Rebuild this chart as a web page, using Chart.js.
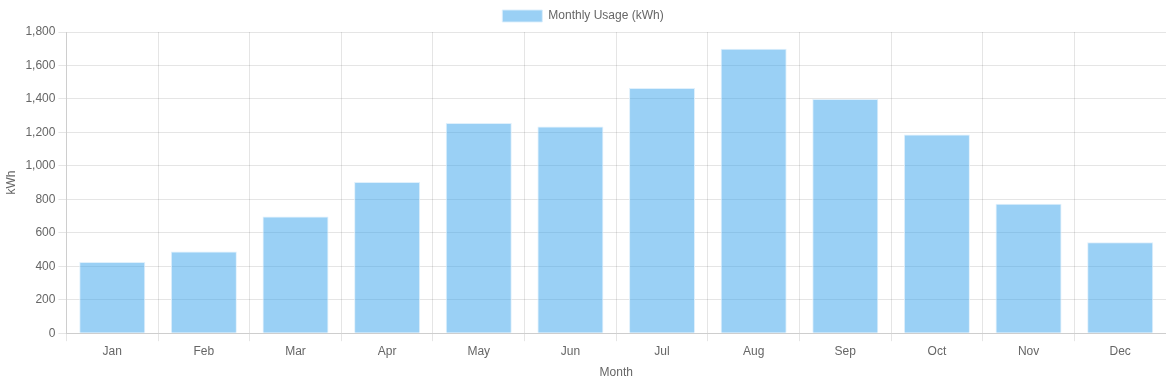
<!DOCTYPE html>
<html>
<head>
<meta charset="utf-8">
<script src="https://cdn.jsdelivr.net/npm/chart.js@4/dist/chart.umd.min.js"></script>
<style>
html,body{margin:0;padding:0;background:#fff;}
#wrap{width:1166px;height:384px;position:relative;}
</style>
</head>
<body>
<div id="wrap"><canvas id="c"></canvas></div>
<script>
const categories = ['Jan','Feb','Mar','Apr','May','Jun','Jul','Aug','Sep','Oct','Nov','Dec'];
const usageKWh = [425, 488, 698, 903, 1256, 1235, 1466, 1700, 1400, 1188, 773, 543];
const seriesLabel = 'Monthly Usage (kWh)';
const xTitle = 'Month';
const yTitle = 'kWh';

Chart.defaults.font.family = "'Helvetica Neue', Helvetica, 'Liberation Sans', Arial, sans-serif";
Chart.defaults.font.size = 12;
Chart.defaults.color = '#666';

new Chart(document.getElementById('c'), {
  type: 'bar',
  data: {
    labels: categories,
    datasets: [{
      label: seriesLabel,
      data: usageKWh,
      backgroundColor: 'rgba(54,162,235,0.5)',
      borderColor: 'rgba(220,238,252,0.9)',
      borderWidth: 1
    }]
  },
  options: {
    responsive: true,
    maintainAspectRatio: false,
    animation: false,
    plugins: {
      legend: { display: true, position: 'top' },
      tooltip: { enabled: false }
    },
    scales: {
      x: {
        title: { display: true, text: xTitle },
        grid: { color: 'rgba(0,0,0,0.1)' }
      },
      y: {
        beginAtZero: true,
        min: 0,
        max: 1800,
        ticks: { stepSize: 200 },
        title: { display: true, text: yTitle },
        grid: { color: 'rgba(0,0,0,0.1)' }
      }
    }
  }
});
</script>
</body>
</html>
